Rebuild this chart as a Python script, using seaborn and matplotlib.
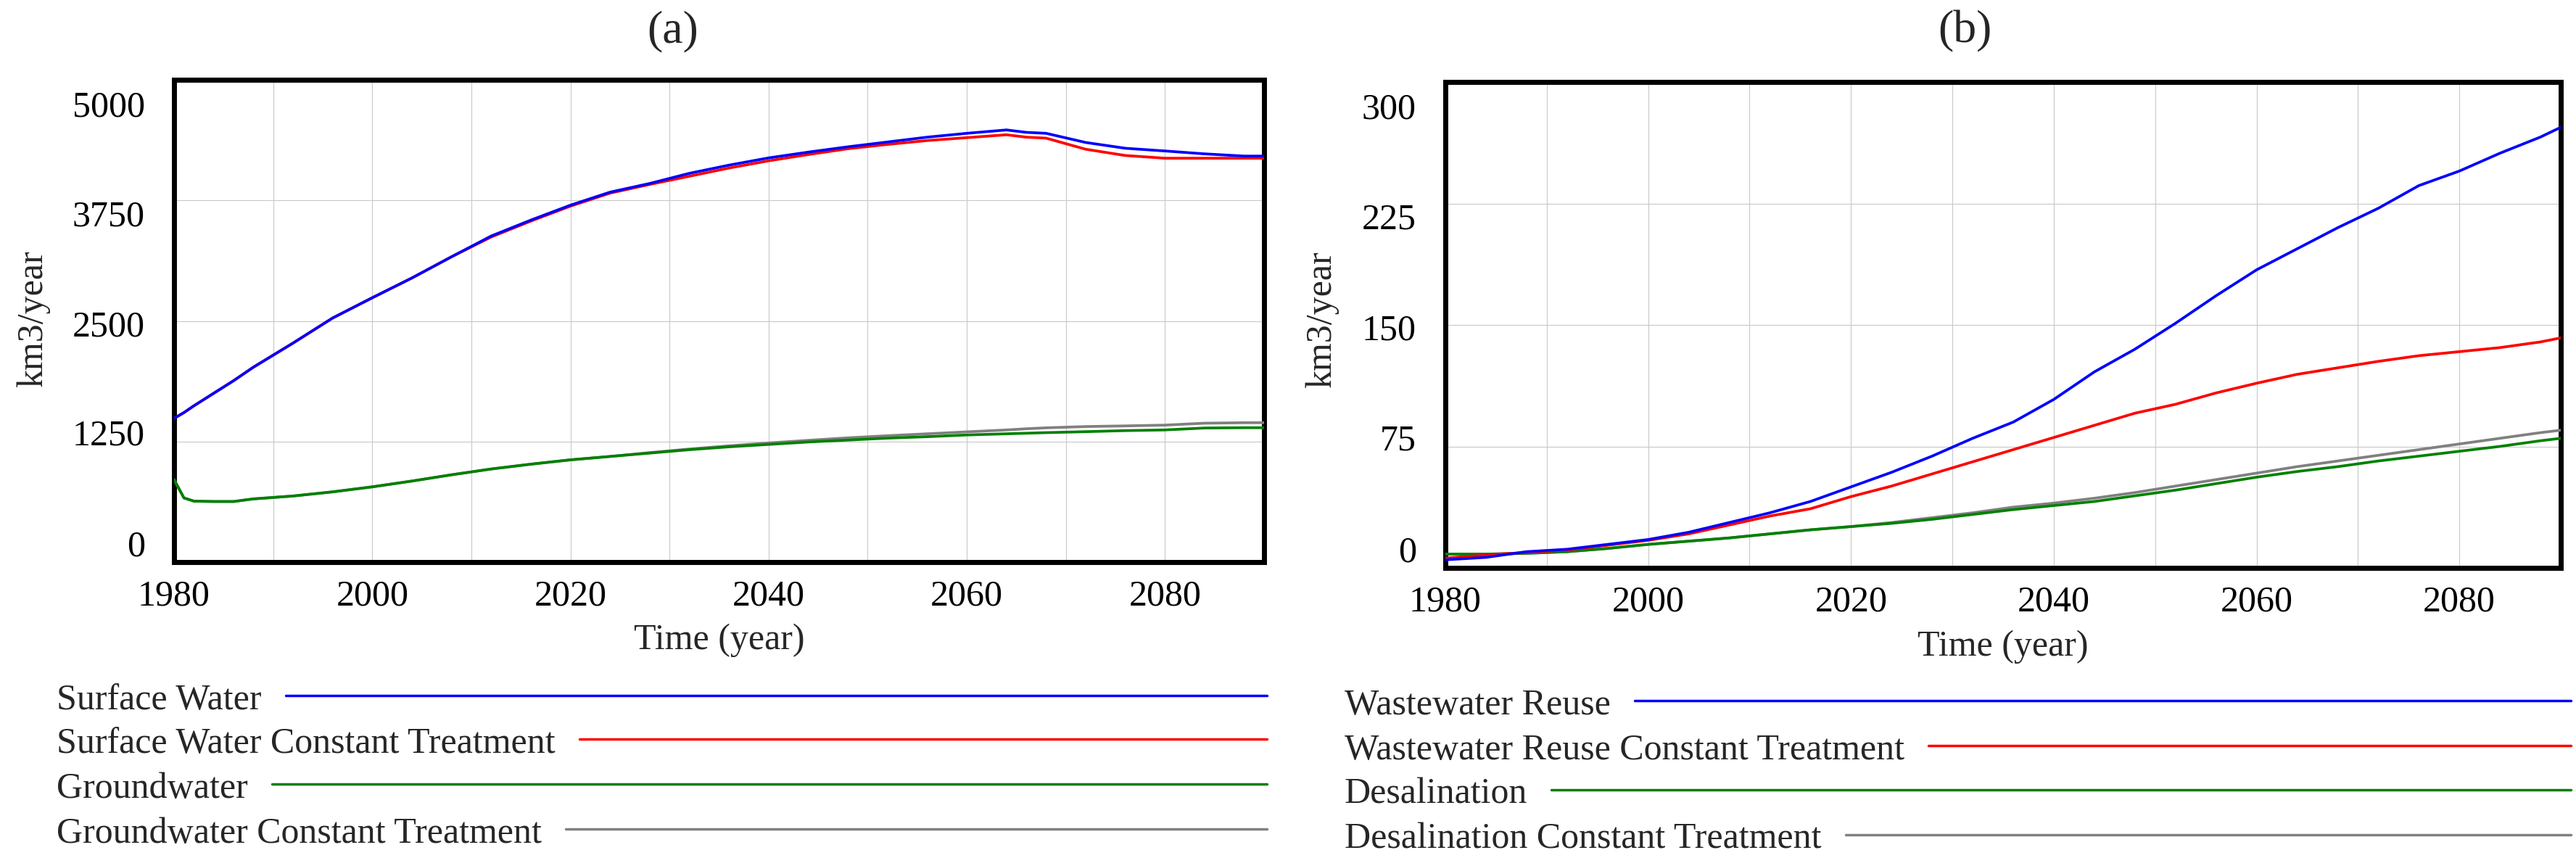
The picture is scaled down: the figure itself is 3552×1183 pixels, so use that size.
import pandas as pd
import matplotlib.pyplot as plt
import seaborn as sns
from matplotlib.lines import Line2D
from matplotlib.transforms import ScaledTranslation

# ---- panel (a): surface water / groundwater (km3/year)
years_a = [1980, 1981, 1982, 1984, 1986, 1988, 1992, 1996, 2000, 2004, 2008, 2012, 2016,
           2020, 2024, 2028, 2032, 2036, 2040, 2044, 2048, 2052, 2056, 2060, 2064, 2066,
           2068, 2072, 2076, 2080, 2084, 2088, 2090]
surface = [1490, 1550, 1620, 1750, 1880, 2020, 2270, 2530, 2740, 2945, 3165, 3380, 3545,
           3700, 3835, 3925, 4030, 4115, 4190, 4250, 4305, 4355, 4405, 4445, 4480, 4455,
           4445, 4350, 4290, 4262, 4232, 4209, 4209]
surface_ct = [1490, 1550, 1620, 1750, 1880, 2020, 2270, 2530, 2740, 2945, 3165, 3370, 3535,
              3690, 3825, 3915, 4000, 4085, 4160, 4225, 4285, 4330, 4370, 4400, 4430, 4405,
              4395, 4280, 4215, 4187, 4187, 4187, 4187]
ground = [855, 665, 632, 628, 628, 655, 685, 728, 780, 840, 905, 965, 1015,
          1060, 1095, 1130, 1165, 1195, 1220, 1245, 1265, 1285, 1300, 1318, 1330, 1336,
          1342, 1352, 1363, 1370, 1390, 1393, 1393]
ground_ct = [855, 665, 632, 628, 628, 655, 685, 728, 780, 840, 905, 965, 1015,
             1060, 1095, 1135, 1172, 1205, 1235, 1262, 1288, 1310, 1330, 1350, 1370, 1382,
             1392, 1405, 1412, 1420, 1440, 1445, 1445]

# ---- panel (b): wastewater reuse / desalination (km3/year)
years_b = [1980, 1984, 1988, 1992, 1996, 2000, 2004, 2008, 2012, 2016, 2020, 2024, 2028,
           2032, 2036, 2040, 2044, 2048, 2052, 2056, 2060, 2064, 2068, 2072, 2076, 2080,
           2084, 2088, 2090]
reuse = [5, 6.5, 10, 11.5, 14.5, 17.5, 22, 28, 34, 41, 50, 59, 69,
         80, 90, 104, 121, 135, 151, 168, 184, 197, 210, 222, 236, 245,
         256, 266, 272]
reuse_ct = [6, 8, 9.5, 11, 14, 17, 21, 26.5, 32, 36.5, 44, 50.5, 58,
            65.5, 73, 80.5, 88, 95.5, 101, 108, 114, 119.5, 123.5, 127.5, 131, 133.5,
            136, 139.5, 142]
desal = [8.5, 8.5, 9, 10, 12, 14.5, 16.5, 18.5, 21, 23.5, 25.5, 27.5, 30,
         33, 36, 38.5, 41, 44.5, 48, 52, 56, 59.5, 62.5, 66, 69, 72,
         75, 78.5, 80]
desal_ct = [8.5, 8.5, 9, 10, 12, 14.5, 16.5, 18.5, 21, 23.5, 25.5, 28, 31,
            34, 37.5, 40, 43, 46.5, 50.5, 54.5, 58.5, 62.5, 66, 69.5, 73, 76.5,
            80, 83.5, 85]

names_a = ["Surface Water", "Surface Water Constant Treatment",
           "Groundwater", "Groundwater Constant Treatment"]
names_b = ["Wastewater Reuse", "Wastewater Reuse Constant Treatment",
           "Desalination", "Desalination Constant Treatment"]
colors = ["#0000ff", "#ff0000", "#008000", "#808080"]

yticks_a = [0, 1250, 2500, 3750, 5000]
yticks_b = [0, 75, 150, 225, 300]
xticks = [1980, 2000, 2020, 2040, 2060, 2080]


def long_df(years, series, names):
    parts = [pd.DataFrame({"year": years, "value": s, "series": n}) for s, n in zip(series, names)]
    return pd.concat(parts, ignore_index=True)


df_a = long_df(years_a, [surface, surface_ct, ground, ground_ct], names_a)
df_b = long_df(years_b, [reuse, reuse_ct, desal, desal_ct], names_b)

sns.set_theme(style="white")
plt.rcParams["font.family"] = ["Liberation Serif", "DejaVu Serif"]

W, H = 3552, 1183
fig = plt.figure(figsize=(W / 100, H / 100), dpi=100)


def px_axes(l, t, r, b):
    return fig.add_axes([l / W, 1 - b / H, (r - l) / W, (b - t) / H])


ax_a = px_axes(240, 110, 1743, 775)
ax_b = px_axes(1993, 113, 3531, 783)

label_shift = [-26, -13, 3, 17, 33]  # Vensim-style compressed tick labels (px, down)

for ax, df, names, yt, title, tx in [(ax_a, df_a, names_a, yticks_a, "(a)", 928),
                                     (ax_b, df_b, names_b, yticks_b, "(b)", 2709)]:
    pal = dict(zip(names, colors))
    sns.lineplot(data=df, x="year", y="value", hue="series", hue_order=names[::-1],
                 palette=pal, estimator=None, linewidth=2.7, legend=False, ax=ax, zorder=3)
    ax.set_xlim(1980, 2090)
    ax.set_ylim(yt[0], yt[-1])
    ax.set_xticks(xticks)
    ax.set_xticks(range(1980, 2091, 10), minor=True)
    ax.set_yticks(yt)
    ax.set_yticklabels([str(v) for v in yt])
    ax.grid(which="both", axis="x", color="#c8c8c8", lw=0.8, zorder=0)
    ax.grid(which="major", axis="y", color="#c8c8c8", lw=0.8, zorder=0)
    ax.tick_params(which="both", length=0, labelsize=36, colors="black")
    ax.tick_params(axis="x", pad=17)
    ax.tick_params(axis="y", pad=29)
    for sp in ax.spines.values():
        sp.set_visible(True)
        sp.set_color("black")
        sp.set_linewidth(5)
    ax.set_xlabel("Time (year)", fontsize=36)
    ax.set_ylabel("km3/year", fontsize=36)
    ax.xaxis.label.set_va("center")
    ax.yaxis.label.set_va("center")
    for lab, dy in zip(ax.get_yticklabels(), label_shift):
        lab.set_transform(lab.get_transform() + ScaledTranslation(0, -dy / 100, fig.dpi_scale_trans))
    fig.text(tx / W, 1 - 43 / H, title, fontsize=46, ha="center", va="center")

ax_a.xaxis.set_label_coords(0.5, -0.162)
ax_a.yaxis.set_label_coords(-0.129, 0.506)
ax_b.xaxis.set_label_coords(0.5, -0.163)
ax_b.yaxis.set_label_coords(-0.111, 0.512)

# legend rows under each panel: text then a long line to the panel's right edge
fig.canvas.draw()
renderer = fig.canvas.get_renderer()
legends = [(names_a, 78, 1747, [978, 1038, 1100, 1162]),
           (names_b, 1854, 3545, [985, 1047, 1108, 1170])]
for names, x0, x1, baselines in legends:
    for name, col, yb in zip(names, colors, baselines):
        t = fig.text(x0 / W, 1 - yb / H, name, fontsize=36, ha="left", va="baseline")
        ext = t.get_window_extent(renderer)
        yl = yb - 19
        fig.add_artist(Line2D([(ext.x1 + 33) / W, x1 / W], [1 - yl / H, 1 - yl / H],
                              transform=fig.transFigure, color=col, lw=2.5))

fig.savefig("out.png", dpi=100)
